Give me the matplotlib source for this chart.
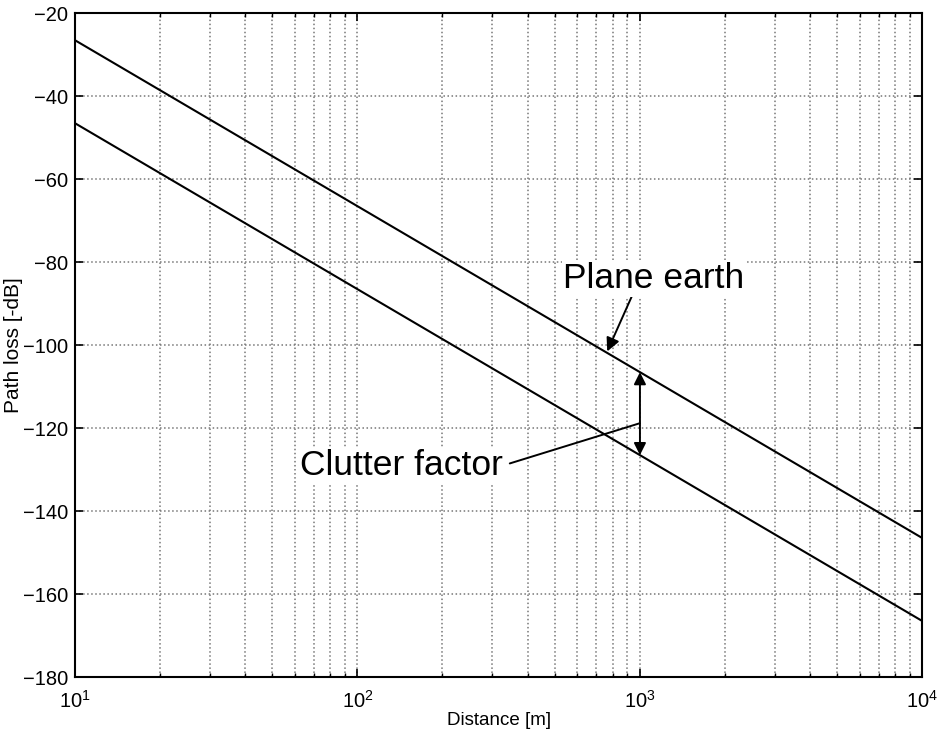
import matplotlib
matplotlib.use("Agg")
import matplotlib.pyplot as plt
from matplotlib.ticker import LogLocator, NullFormatter

plt.rcParams['font.family'] = ['Liberation Sans', 'DejaVu Sans']

# values
distance = [10, 100, 1000, 10000]           # m
plane_earth = [-26.5, -66.5, -106.5, -146.5]  # dB
clutter = [-46.5, -86.5, -126.5, -166.5]      # dB

yticks = [-180, -160, -140, -120, -100, -80, -60, -40, -20]

fig = plt.figure(figsize=(9.49, 7.36), dpi=100)
ax = fig.add_axes([0.079, 0.080, 0.893, 0.902])

ax.semilogx(distance, plane_earth, color='black', lw=1.5)
ax.semilogx(distance, clutter, color='black', lw=1.5)

ax.set_xlim(10, 10000)
ax.set_ylim(-180, -20)
ax.set_yticks(yticks)
ax.xaxis.set_major_locator(LogLocator(base=10))
ax.xaxis.set_minor_locator(LogLocator(base=10, subs=range(2, 10)))
ax.xaxis.set_minor_formatter(NullFormatter())

ax.grid(True, which='major', axis='both', color='#777777', ls=':', lw=1.1)
ax.grid(True, which='minor', axis='x', color='#777777', ls=':', lw=1.1)
ax.tick_params(which='both', direction='in', top=True, right=True, labelsize=14.5)
ax.tick_params(which='major', length=6, width=1.2)
ax.tick_params(which='minor', length=3, width=1.0)
ax.tick_params(axis='x', which='major', pad=9)
ax.tick_params(axis='y', which='major', pad=5)
for s in ax.spines.values():
    s.set_linewidth(1.5)

ax.set_xlabel('Distance [m]', fontsize=13.5, labelpad=0)
ax.set_ylabel('Path loss [-dB]', fontsize=15, labelpad=0)

# annotations
ax.annotate('Plane earth', xy=(766, -101.5), xytext=(536, -84),
            fontsize=25.5, va='center', ha='left',
            bbox=dict(facecolor='white', edgecolor='none', pad=1),
            arrowprops=dict(arrowstyle='-|>', color='black', lw=1.4,
                            mutation_scale=20, shrinkA=0, shrinkB=0,
                            relpos=(0.38, 0.0)))

ax.annotate('', xy=(1000, -126.5), xytext=(1000, -106.5),
            arrowprops=dict(arrowstyle='<|-|>', color='black', lw=1.4,
                            mutation_scale=18, shrinkA=0, shrinkB=0))

ax.annotate('Clutter factor', xy=(1000, -118.8), xytext=(62.7, -129),
            fontsize=25.5, va='center', ha='left',
            bbox=dict(facecolor='white', edgecolor='none', pad=1),
            arrowprops=dict(arrowstyle='-', color='black', lw=1.4,
                            shrinkA=4, shrinkB=0, relpos=(1.0, 0.5)))

fig.savefig('out.png', dpi=100)
